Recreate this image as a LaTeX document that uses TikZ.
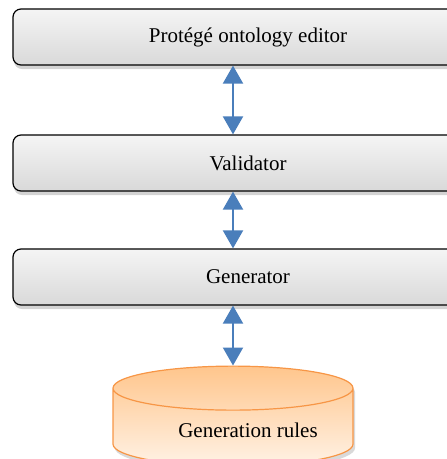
\documentclass[tikz,border=0pt]{standalone}
\usepackage{fontspec}
\setmainfont{Liberation Serif}
\usepackage{tikz}
\usetikzlibrary{arrows.meta,positioning,shapes.geometric,shadows}

\definecolor{arrowblue}{HTML}{4A7EBB}
\definecolor{rulesedge}{HTML}{F79646}

\begin{document}
\begin{tikzpicture}[
    x=1pt, y=-1pt,
    font=\fontsize{21}{25}\selectfont,
    block/.style={draw, line width=1.2pt, rounded corners=8pt, minimum width=470pt, minimum height=56pt,
                  top color=gray!8, bottom color=gray!30,
                  drop shadow={shadow xshift=1pt, shadow yshift=-4pt, opacity=0.35}},
    store/.style={cylinder, shape border rotate=90, aspect=0.25, draw=rulesedge, line width=1.2pt,
                  minimum width=240pt, minimum height=100pt,
                  top color=orange!45, bottom color=orange!10,
                  drop shadow={shadow xshift=2pt, shadow yshift=-4pt, opacity=0.3}},
    line/.style={{Triangle[width=20pt,length=18pt]}-{Triangle[width=20pt,length=18pt]}, line width=2pt, arrowblue}
]
\useasboundingbox (0,0) rectangle (447,459);
\clip (0,0) rectangle (447,459);
\node[block] (editor) at (248,37) {Protégé ontology editor};
\node[block] (validator) at (248,163) {Validator};
\node[block] (generator) at (248,277) {Generator};
\node[store] (rules) at (233,430) {\hspace*{30pt}Generation rules};

\draw[line] (editor.south -| rules.north) -- (validator.north -| rules.north);
\draw[line] (validator.south -| rules.north) -- (generator.north -| rules.north);
\draw[line] (generator.south -| rules.north) -- (rules.north);
\end{tikzpicture}
\end{document}
